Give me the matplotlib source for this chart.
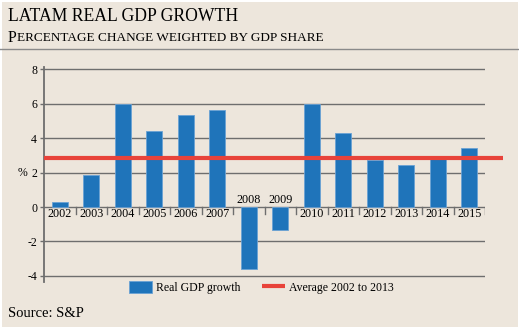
import matplotlib.pyplot as plt
import numpy as np

# data
years = ["2002", "2003", "2004", "2005", "2006", "2007", "2008",
         "2009", "2010", "2011", "2012", "2013", "2014", "2015"]
growth = [0.3, 1.85, 6.0, 4.4, 5.33, 5.6, -3.6,
          -1.33, 5.95, 4.27, 2.75, 2.42, 2.8, 3.4]
average = 2.85
yticks = [-4, -2, 0, 2, 4, 6, 8]

bg = "#ede6dc"
blue = "#1f74ba"
red = "#e8433a"
grid = "#6e6e6e"
serif = ["Liberation Serif", "DejaVu Serif"]
plt.rcParams["font.family"] = serif

fig = plt.figure(figsize=(5.19, 3.28), dpi=100)
fig.patch.set_facecolor(bg)
fig.patch.set_edgecolor("white")
fig.patch.set_linewidth(2)

ax = fig.add_axes([0.0848, 0.1402, 0.8497, 0.6555])
ax.set_facecolor(bg)
x = np.arange(len(years))

for t in yticks:
    ax.axhline(t, color=grid, lw=1.0, zorder=1)

bars = ax.bar(x, growth, width=0.5, color=blue, edgecolor="#6aa2d4", linewidth=0.6,
              zorder=2)
avg_line, = ax.plot([-0.5, 14.07], [average, average], color=red, lw=3.0, zorder=3,
                    clip_on=False, solid_capstyle="butt")

# little separators below the zero line
for b in x + 0.5:
    ax.plot([b, b], [0, -0.38], color=grid, lw=1.0, zorder=1)

for i, v in enumerate(growth):
    if v >= 0:
        ax.text(i, -0.42, years[i], ha="center", va="center", fontsize=8.7, zorder=4)
    else:
        ax.text(i, 0.38, years[i], ha="center", va="center", fontsize=8.7, zorder=4)

ax.set_xlim(-0.5, 13.5)
ax.set_ylim(-4.35, 8.12)
ax.set_xticks([])
ax.set_yticks(yticks)
ax.set_yticklabels([str(t) for t in yticks], fontsize=8.5)
ax.tick_params(axis="y", length=3, width=1, color=grid, pad=2)
for s in ["top", "right", "bottom"]:
    ax.spines[s].set_visible(False)
ax.spines["left"].set_color(grid)
ax.spines["left"].set_linewidth(1.3)
ax.text(-1.02, 2, "%", ha="right", va="center", fontsize=8.5)

# titles
fig.text(0.015, 0.951, "LATAM REAL GDP GROWTH", fontsize=12.7, va="center", ha="left")
p = fig.text(0.015, 0.873, "P", fontsize=11.5, va="baseline", ha="left")
ax.annotate("ERCENTAGE CHANGE WEIGHTED BY GDP SHARE", xy=(1, 0), xycoords=p,
            xytext=(0.3, 1.3), textcoords="offset points",
            fontsize=9.5, va="bottom", ha="left")
fig.add_artist(plt.Line2D([0, 1], [0.851, 0.851], color="#8a8a8a", lw=1.0))

fig.legend([bars, avg_line], ["Real GDP growth", "Average 2002 to 2013"],
           loc="center", bbox_to_anchor=(0.504, 0.124), ncol=2,
           frameon=False, fontsize=8.5, handlelength=1.95, handleheight=1.2,
           columnspacing=1.8, handletextpad=0.35)

fig.text(0.015, 0.043, "Source: S&P", fontsize=10.5, va="center", ha="left")

fig.savefig("out.png", dpi=100, facecolor=bg, edgecolor="white")
